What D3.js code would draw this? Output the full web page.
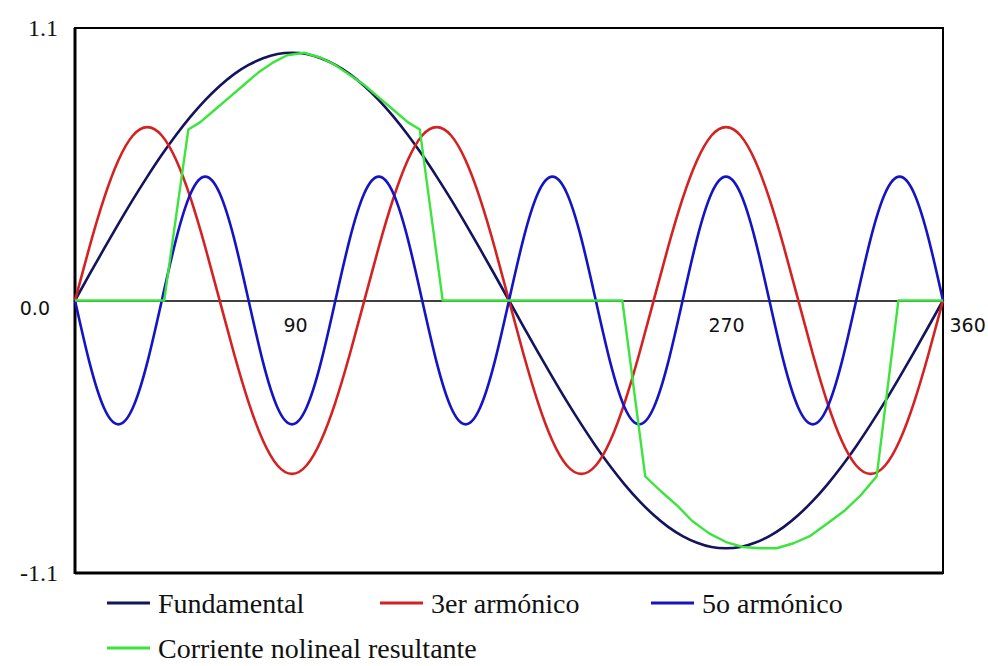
<!DOCTYPE html>
<html>
<head>
<meta charset="utf-8">
<script src="https://cdn.jsdelivr.net/npm/d3@7"></script>
<style>
  html, body { margin: 0; padding: 0; background: #fff; }
  svg { display: block; }
</style>
</head>
<body>
<svg id="chart" width="988" height="666"></svg>
<script>
/////////////////////////////////// DONNEES ///////////////////////////////////
// grille des angles (degres) pour les harmoniques
var angles = d3.range(0, 361, 6);

var fundamental = [0,.105,.208,.309,.407,.5,.588,.669,.743,.809,.866,.914,.951,.978,.995,1,
  .995,.978,.951,.914,.866,.809,.743,.669,.588,.5,.407,.309,.208,.105,0,
  -.105,-.208,-.309,-.407,-.5,-.588,-.669,-.743,-.809,-.866,-.914,-.951,-.978,-.995,-1,
  -.995,-.978,-.951,-.914,-.866,-.809,-.743,-.669,-.588,-.5,-.407,-.309,-.208,-.105,0];

var third = [0,.216,.411,.566,.666,.7,.666,.566,.411,.216,0,-.216,-.411,-.566,-.666,-.7,-.666,-.566,-.411,-.216,
  0,.216,.411,.566,.666,.7,.666,.566,.411,.216,0,-.216,-.411,-.566,-.666,-.7,-.666,-.566,-.411,-.216,
  0,.216,.411,.566,.666,.7,.666,.566,.411,.216,0,-.216,-.411,-.566,-.666,-.7,-.666,-.566,-.411,-.216,0];

var fifth = [0,-.25,-.433,-.5,-.433,-.25,0,.25,.433,.5,.433,.25,
  0,-.25,-.433,-.5,-.433,-.25,0,.25,.433,.5,.433,.25,
  0,-.25,-.433,-.5,-.433,-.25,0,.25,.433,.5,.433,.25,
  0,-.25,-.433,-.5,-.433,-.25,0,.25,.433,.5,.433,.25,
  0,-.25,-.433,-.5,-.433,-.25,0,.25,.433,.5,.433,.25,0];

// courant non lineaire
var greenAngles = [0,37,47,52,58,64,70,76,82,88,95,102,108,114,120,126,132,138,143,152.5,
  227,236.5,243,250,256,263,270,277,284,291,298,305,312,319,325.5,332.5,341.5,360];
var greenValues = [0,0,.69,.72,.77,.82,.87,.92,.96,.99,1,.98,.95,.91,.87,.82,.77,.72,.69,0,
  0,-.71,-.77,-.83,-.89,-.94,-.975,-.995,-1,-1,-.98,-.95,-.9,-.85,-.79,-.71,0,0];

var seriesNames = ["Fundamental", "3er armónico", "5o armónico", "Corriente nolineal resultante"];
var seriesColors = ["#14145e", "#d42222", "#1414c4", "#3ce43c"];

var yTicks = [1.1, 0, -1.1];
var xTicks = [90, 270, 360];

/////////////////////////////////// ECHELLES ///////////////////////////////////
var svg = d3.select("#chart");
var plotLeft = 75, plotRight = 943, plotTop = 28, plotBottom = 573;

var x = d3.scaleLinear().domain([0, 360]).range([plotLeft, plotRight]);
var y = d3.scaleLinear().domain([-1.1, 1.1]).range([plotBottom, plotTop]);

// cadre
svg.append("rect")
  .attr("x", plotLeft).attr("y", plotTop)
  .attr("width", plotRight - plotLeft).attr("height", plotBottom - plotTop)
  .attr("fill", "none")
  .attr("stroke", "#000")
  .attr("stroke-width", 2);
// bord gauche et bas un peu plus epais
svg.append("line").attr("x1", plotLeft).attr("x2", plotLeft).attr("y1", plotTop).attr("y2", plotBottom + 1)
  .attr("stroke", "#000").attr("stroke-width", 3);
svg.append("line").attr("x1", plotLeft).attr("x2", plotRight).attr("y1", plotBottom).attr("y2", plotBottom)
  .attr("stroke", "#000").attr("stroke-width", 3);

// axe Y (seulement les etiquettes)
var yAxis = svg.append("g")
  .attr("transform", "translate(" + (plotLeft - 17) + ",0)")
  .call(d3.axisLeft(y).tickValues(yTicks).tickSize(0).tickPadding(0)
    .tickFormat(function(d) { return d.toFixed(1); }));
yAxis.select(".domain").remove();
yAxis.selectAll("text")
  .attr("fill", "#111")
  .style("font-family", "'Liberation Serif', serif")
  .style("font-size", "24px");
yAxis.selectAll(".tick text").filter(function(d) { return d === 0; })
  .attr("x", -8)
  .attr("dy", "0.75em")
  .style("font-family", "'DejaVu Sans', sans-serif")
  .style("font-size", "19px");

// axe X sur la ligne zero
var xAxis = svg.append("g")
  .attr("transform", "translate(0," + y(0) + ")")
  .call(d3.axisBottom(x).tickValues(xTicks).tickSize(0).tickSizeOuter(0).tickPadding(18));
xAxis.select(".domain").attr("stroke", "#000").attr("stroke-width", 1.5);
xAxis.selectAll("text")
  .attr("fill", "#111")
  .style("font-family", "'DejaVu Sans', sans-serif")
  .style("font-size", "19px");
xAxis.selectAll(".tick text").filter(function(d) { return d === 90; }).attr("x", 3);
xAxis.selectAll(".tick text").filter(function(d) { return d === 360; })
  .attr("text-anchor", "start").attr("x", 6);

/////////////////////////////////// COURBES ///////////////////////////////////
var smooth = d3.line()
  .x(function(d) { return x(d[0]); })
  .y(function(d) { return y(d[1]); })
  .curve(d3.curveNatural);
var straight = d3.line()
  .x(function(d) { return x(d[0]); })
  .y(function(d) { return y(d[1]); });

var harmonics = [fundamental, third, fifth];
harmonics.forEach(function(vals, i) {
  svg.append("path")
    .datum(angles.map(function(a, k) { return [a, vals[k]]; }))
    .attr("d", smooth)
    .attr("fill", "none")
    .attr("stroke", seriesColors[i])
    .attr("stroke-width", 2.6);
});

svg.append("path")
  .datum(greenAngles.map(function(a, k) { return [a, greenValues[k]]; }))
  .attr("d", straight)
  .attr("fill", "none")
  .attr("stroke", seriesColors[3])
  .attr("stroke-width", 2.4)
  .attr("stroke-linejoin", "round");

/////////////////////////////////// LEGENDE ///////////////////////////////////
var legendX = [107, 380, 651, 107];
var legendY = [603, 603, 603, 648];
var legend = svg.append("g").attr("class", "legend");
seriesNames.forEach(function(name, i) {
  var g = legend.append("g").attr("transform", "translate(" + legendX[i] + "," + legendY[i] + ")");
  g.append("line")
    .attr("x1", 0).attr("x2", 43).attr("y1", 0).attr("y2", 0)
    .attr("stroke", seriesColors[i])
    .attr("stroke-width", 3);
  g.append("text")
    .attr("x", 51).attr("y", 10)
    .attr("fill", "#111")
    .style("font-family", "'Liberation Serif', serif")
    .style("font-size", "28px")
    .text(name);
});
</script>
</body>
</html>
